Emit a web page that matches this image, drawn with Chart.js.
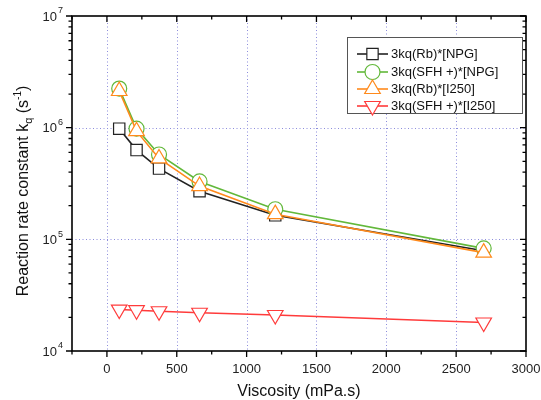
<!DOCTYPE html>
<html>
<head>
<meta charset="utf-8">
<script src="https://cdn.jsdelivr.net/npm/chart.js@4.4.0/dist/chart.umd.min.js"></script>
<style>
  html, body { margin: 0; padding: 0; background: #fff; }
  #wrap { width: 541px; height: 400px; }
</style>
</head>
<body>
<div id="wrap"><canvas id="c" width="541" height="400"></canvas></div>
<script>
// data
const viscosity = [88, 212, 373, 663, 1205, 2697];
const rbNPG = [9.8e5, 6.3e5, 4.3e5, 2.7e5, 1.64e5, 7.9e4];
const sfhNPG = [2.24e6, 9.8e5, 5.75e5, 3.3e5, 1.86e5, 8.3e4];
const rbI250 = [2.13e6, 9.3e5, 5.3e5, 3.0e5, 1.68e5, 7.6e4];
const sfhI250 = [2.35e4, 2.32e4, 2.27e4, 2.2e4, 2.1e4, 1.8e4];
const seriesLabels = ['3kq(Rb)*[NPG]', '3kq(SFH +)*[NPG]', '3kq(Rb)*[I250]', '3kq(SFH +)*[I250]'];
const xTicks = [0, 500, 1000, 1500, 2000, 2500, 3000];
const yExponents = [4, 5, 6, 7];

const FONT = "'Liberation Sans', Arial, sans-serif";
const GRID = '#8c8cdc';

const toPoints = (ys) => viscosity.map((v, i) => ({ x: v, y: ys[i] }));

// draw a marker (legend only)
const drawMarker = (ctx, ds, x, y) => {
  const r = ds.pointRadius;
  ctx.save();
  ctx.fillStyle = '#fff';
  ctx.strokeStyle = ds.pointBorderColor;
  ctx.lineWidth = 1.2;
  ctx.beginPath();
  if (ds.pointStyle === 'rect') {
    const s = r * Math.SQRT1_2;
    ctx.rect(x - s, y - s, 2 * s, 2 * s);
  } else if (ds.pointStyle === 'circle') {
    ctx.arc(x, y, r, 0, Math.PI * 2);
  } else {
    const dir = ds.pointRotation === 180 ? -1 : 1;
    ctx.moveTo(x, y - dir * r);
    ctx.lineTo(x + r * Math.sqrt(3) / 2, y + dir * r / 2);
    ctx.lineTo(x - r * Math.sqrt(3) / 2, y + dir * r / 2);
    ctx.closePath();
  }
  ctx.fill();
  ctx.stroke();
  ctx.restore();
};

const framePlugin = {
  id: 'frame',
  beforeDatasetsDraw(chart) {
    const { ctx, chartArea: a, scales: { x, y } } = chart;
    ctx.save();
    ctx.strokeStyle = GRID;
    ctx.lineWidth = 1;
    ctx.setLineDash([1, 2.5]);
    xTicks.slice(0, -1).forEach(v => {
      const px = Math.round(x.getPixelForValue(v)) + 0.5;
      ctx.beginPath(); ctx.moveTo(px, a.top); ctx.lineTo(px, a.bottom); ctx.stroke();
    });
    [5, 6].forEach(e => {
      const py = Math.round(y.getPixelForValue(Math.pow(10, e))) + 0.5;
      ctx.beginPath(); ctx.moveTo(a.left, py); ctx.lineTo(a.right, py); ctx.stroke();
    });
    ctx.restore();
  },
  afterDatasetsDraw(chart) {
    const { ctx, chartArea: a, scales: { x, y } } = chart;
    ctx.save();
    ctx.strokeStyle = '#000';
    ctx.lineWidth = 1.6;
    ctx.strokeRect(a.left, a.top, a.right - a.left, a.bottom - a.top);

    // x ticks: outward at bottom, inward at top
    ctx.lineWidth = 1.3;
    for (let v = -250; v <= 3000; v += 250) {
      const px = x.getPixelForValue(v);
      const len = v % 500 === 0 ? 6 : 3.5;
      ctx.beginPath();
      ctx.moveTo(px, a.bottom); ctx.lineTo(px, a.bottom + len);
      ctx.moveTo(px, a.top); ctx.lineTo(px, a.top + len);
      ctx.stroke();
    }
    // y ticks: outward on left, inward on right
    yExponents.forEach((e, i) => {
      const base = Math.pow(10, e);
      const py = y.getPixelForValue(base);
      ctx.beginPath();
      ctx.moveTo(a.left, py); ctx.lineTo(a.left - 6, py);
      ctx.moveTo(a.right, py); ctx.lineTo(a.right - 6, py);
      ctx.stroke();
      if (i < yExponents.length - 1) {
        for (let k = 2; k <= 9; k++) {
          const pm = y.getPixelForValue(k * base);
          ctx.beginPath();
          ctx.moveTo(a.left, pm); ctx.lineTo(a.left - 3.5, pm);
          ctx.moveTo(a.right, pm); ctx.lineTo(a.right - 3.5, pm);
          ctx.stroke();
        }
      }
    });

    // tick labels
    ctx.fillStyle = '#222';
    ctx.font = '13px ' + FONT;
    ctx.textAlign = 'center';
    ctx.textBaseline = 'middle';
    xTicks.forEach(v => ctx.fillText(String(v), x.getPixelForValue(v), a.bottom + 18));
    yExponents.forEach(e => {
      const py = y.getPixelForValue(Math.pow(10, e));
      ctx.font = '13px ' + FONT;
      ctx.textAlign = 'right';
      ctx.fillText('10', a.left - 15, py + 1);
      ctx.font = '9px ' + FONT;
      ctx.textAlign = 'left';
      ctx.fillText(String(e), a.left - 14, py - 5);
    });

    // axis titles
    ctx.fillStyle = '#111';
    ctx.font = '16px ' + FONT;
    ctx.textAlign = 'center';
    ctx.fillText('Viscosity (mPa.s)', (a.left + a.right) / 2, 392);

    ctx.save();
    ctx.translate(24, 191);
    ctx.rotate(-Math.PI / 2);
    const parts = [
      { t: 'Reaction rate constant k', f: 16, dy: 0 },
      { t: 'q', f: 11, dy: 5 },
      { t: ' (s', f: 16, dy: 0 },
      { t: '-1', f: 10, dy: -6 },
      { t: ')', f: 16, dy: 0 }
    ];
    let total = 0;
    parts.forEach(p => { ctx.font = p.f + 'px ' + FONT; p.w = ctx.measureText(p.t).width; total += p.w; });
    let cx = -total / 2;
    ctx.textAlign = 'left';
    parts.forEach(p => {
      ctx.font = p.f + 'px ' + FONT;
      ctx.fillText(p.t, cx, p.dy);
      cx += p.w;
    });
    ctx.restore();

    // legend box
    const lx = 347, ly = 37, lw = 175, lh = 76;
    ctx.fillStyle = '#fff';
    ctx.fillRect(lx, ly, lw, lh);
    ctx.strokeStyle = '#555';
    ctx.lineWidth = 1;
    ctx.strokeRect(lx + 0.5, ly + 0.5, lw, lh);
    const rows = [54, 72, 89, 106];
    chart.data.datasets.forEach((ds, i) => {
      const ry = rows[i];
      ctx.strokeStyle = ds.borderColor;
      ctx.lineWidth = 1.6;
      ctx.beginPath(); ctx.moveTo(357, ry); ctx.lineTo(388, ry); ctx.stroke();
      drawMarker(ctx, ds, 372.5, ry);
      ctx.fillStyle = '#111';
      ctx.font = '13px ' + FONT;
      ctx.textAlign = 'left';
      ctx.textBaseline = 'middle';
      ctx.fillText(ds.label, 391, ry);
    });
    ctx.restore();
  }
};

const mkSet = (label, ys, color, style, r, rot, order) => ({
  label,
  data: toPoints(ys),
  borderColor: color,
  pointBorderColor: color,
  backgroundColor: '#fff',
  pointBackgroundColor: '#fff',
  borderWidth: 1.6,
  pointBorderWidth: 1.2,
  pointStyle: style,
  pointRadius: r,
  pointRotation: rot,
  order,
  tension: 0
});

new Chart(document.getElementById('c'), {
  type: 'line',
  data: {
    datasets: [
      mkSet(seriesLabels[0], rbNPG, '#222222', 'rect', 8, 0, 4),
      mkSet(seriesLabels[1], sfhNPG, '#62b83a', 'circle', 7.5, 0, 3),
      mkSet(seriesLabels[2], rbI250, '#ff8a1c', 'triangle', 9, 0, 2),
      mkSet(seriesLabels[3], sfhI250, '#ff3b3b', 'triangle', 9, 180, 1)
    ]
  },
  options: {
    responsive: false,
    animation: false,
    layout: { padding: { top: 16, right: 15, left: 0, bottom: 0 } },
    plugins: { legend: { display: false }, tooltip: { enabled: false } },
    scales: {
      x: {
        type: 'linear',
        min: -250,
        max: 3000,
        grid: { display: false },
        border: { display: false },
        ticks: { display: false },
        afterFit: (s) => { s.height = 49; }
      },
      y: {
        type: 'logarithmic',
        min: 1e4,
        max: 1e7,
        grid: { display: false },
        border: { display: false },
        ticks: { display: false },
        afterFit: (s) => { s.width = 72; }
      }
    }
  },
  plugins: [framePlugin]
});
</script>
</body>
</html>
